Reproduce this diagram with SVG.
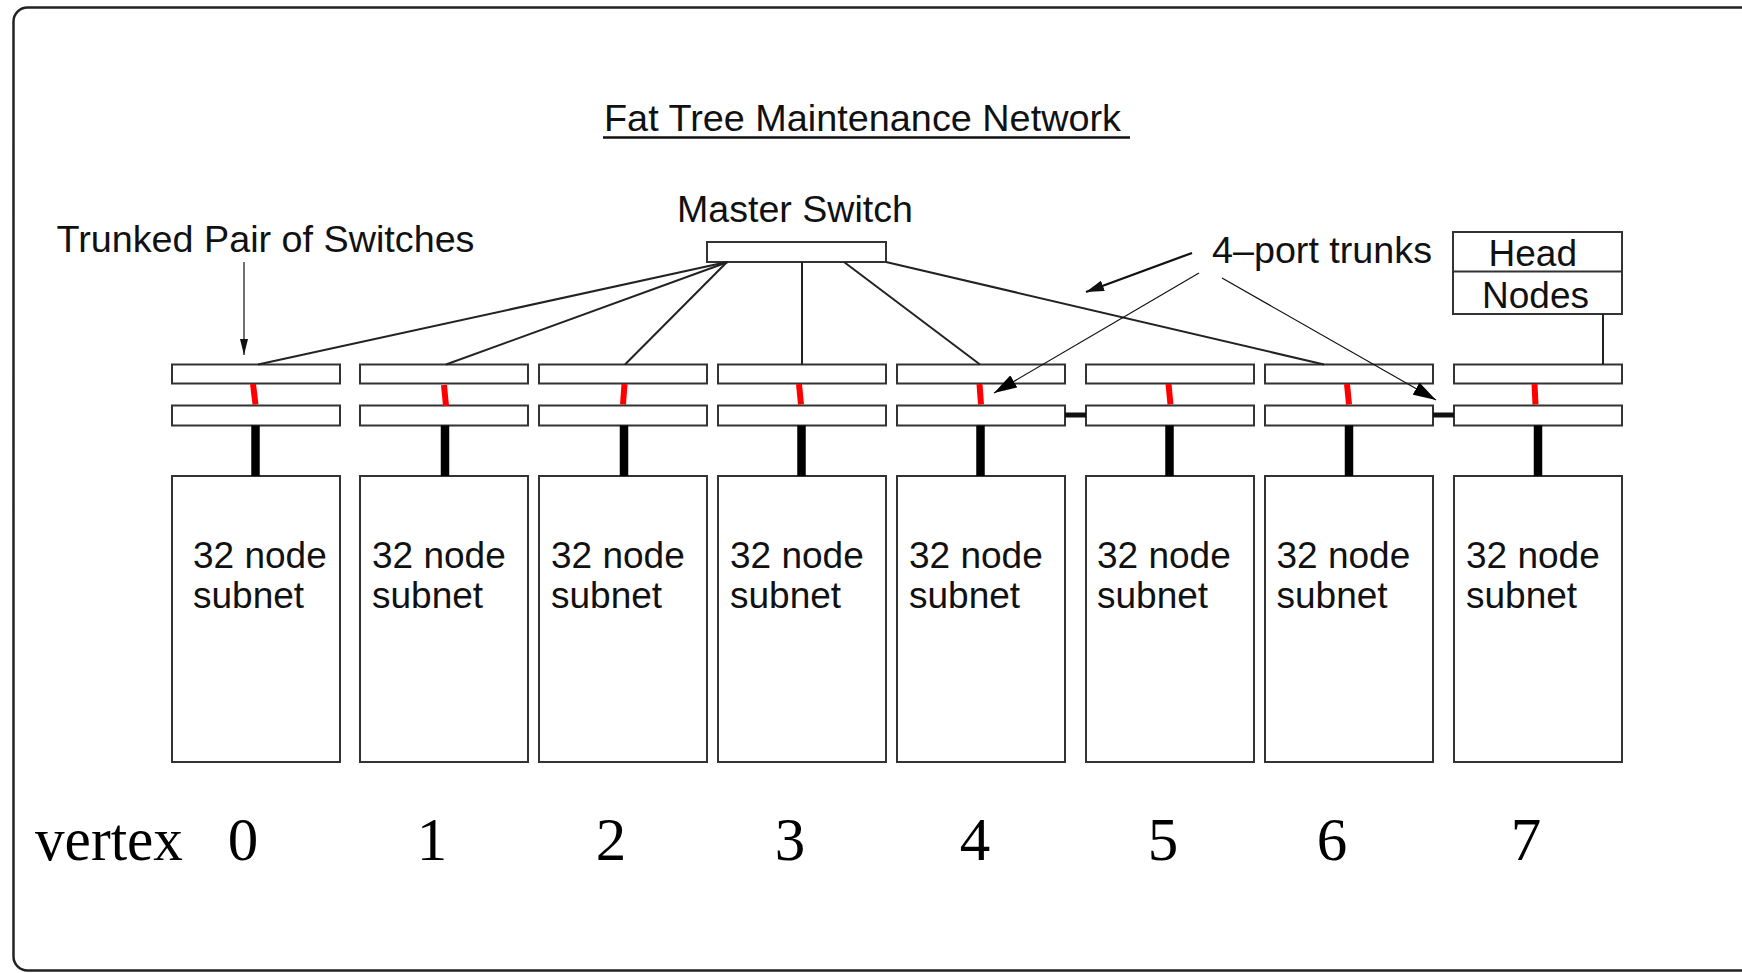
<svg xmlns="http://www.w3.org/2000/svg" width="1742" height="973" viewBox="0 0 1742 973">
<style>
.box{fill:#fff;stroke:#333;stroke-width:2}
.sans{font-family:"Liberation Sans",Arial,sans-serif;font-size:37px;fill:#111}
.serif{font-family:"Liberation Serif","Times New Roman",serif;font-size:61px;fill:#000}
.ln{stroke:#222;stroke-width:2;fill:none}
.thin{stroke:#111;stroke-width:1.2;fill:none}
.red{stroke:#f00;stroke-width:6;fill:none}
.bar{stroke:#000;stroke-width:8.5;fill:none}
.trunk{stroke:#111;stroke-width:5;fill:none}
</style>
<defs>
<marker id="ahBig" markerUnits="userSpaceOnUse" markerWidth="24" markerHeight="14" refX="23" refY="7" orient="auto"><path d="M0,0 L23,7 L0,14 z" fill="#000"/></marker>
<marker id="ahMid" markerUnits="userSpaceOnUse" markerWidth="18" markerHeight="11" refX="18" refY="5.5" orient="auto"><path d="M0,0 L18,5.5 L0,11 z" fill="#111"/></marker>
<marker id="ahSmall" markerUnits="userSpaceOnUse" markerWidth="16" markerHeight="8" refX="16" refY="4" orient="auto"><path d="M0,0 L16,4 L0,8 z" fill="#111"/></marker>
</defs>
<rect width="1742" height="973" fill="#fff"/>
<rect id="frame" x="13.5" y="7.5" width="1790" height="963" rx="14" fill="none" stroke="#222" stroke-width="2.5"/>

<g id="title">
<text class="sans" x="604" y="131" font-size="38" textLength="517" lengthAdjust="spacingAndGlyphs">Fat Tree Maintenance Network</text>
<line x1="603" y1="137.5" x2="1130" y2="137.5" stroke="#111" stroke-width="2.6"/>
</g>

<g id="label-trunked"><text class="sans" x="56.5" y="252" textLength="418" lengthAdjust="spacingAndGlyphs">Trunked Pair of Switches</text></g>
<g id="label-trunks"><text class="sans" x="1212" y="263" textLength="220" lengthAdjust="spacingAndGlyphs">4–port trunks</text></g>

<g id="master-switch">
<text class="sans" x="677" y="222" textLength="236" lengthAdjust="spacingAndGlyphs">Master Switch</text>
<rect class="box" x="707" y="242" width="179" height="20"/>
</g>

<g id="head-nodes">
<rect class="box" x="1453" y="232" width="169" height="82"/>
<line x1="1453" y1="271.5" x2="1622" y2="271.5" stroke="#333" stroke-width="2"/>
<text class="sans" x="1488.5" y="266">Head</text>
<text class="sans" x="1482" y="308">Nodes</text>
</g>

<g id="col0">
<rect class="box" x="172" y="364.5" width="168" height="19"/>
<rect class="box" x="172" y="405.5" width="168" height="20"/>
<rect class="box" x="172" y="476" width="168" height="286"/>
<text class="sans" x="193" y="568">32 node</text><text class="sans" x="193" y="608">subnet</text>
</g>
<g id="col1">
<rect class="box" x="360" y="364.5" width="168" height="19"/>
<rect class="box" x="360" y="405.5" width="168" height="20"/>
<rect class="box" x="360" y="476" width="168" height="286"/>
<text class="sans" x="372" y="568">32 node</text><text class="sans" x="372" y="608">subnet</text>
</g>
<g id="col2">
<rect class="box" x="539" y="364.5" width="168" height="19"/>
<rect class="box" x="539" y="405.5" width="168" height="20"/>
<rect class="box" x="539" y="476" width="168" height="286"/>
<text class="sans" x="551" y="568">32 node</text><text class="sans" x="551" y="608">subnet</text>
</g>
<g id="col3">
<rect class="box" x="718" y="364.5" width="168" height="19"/>
<rect class="box" x="718" y="405.5" width="168" height="20"/>
<rect class="box" x="718" y="476" width="168" height="286"/>
<text class="sans" x="730" y="568">32 node</text><text class="sans" x="730" y="608">subnet</text>
</g>
<g id="col4">
<rect class="box" x="897" y="364.5" width="168" height="19"/>
<rect class="box" x="897" y="405.5" width="168" height="20"/>
<rect class="box" x="897" y="476" width="168" height="286"/>
<text class="sans" x="909" y="568">32 node</text><text class="sans" x="909" y="608">subnet</text>
</g>
<g id="col5">
<rect class="box" x="1086" y="364.5" width="168" height="19"/>
<rect class="box" x="1086" y="405.5" width="168" height="20"/>
<rect class="box" x="1086" y="476" width="168" height="286"/>
<text class="sans" x="1097" y="568">32 node</text><text class="sans" x="1097" y="608">subnet</text>
</g>
<g id="col6">
<rect class="box" x="1265" y="364.5" width="168" height="19"/>
<rect class="box" x="1265" y="405.5" width="168" height="20"/>
<rect class="box" x="1265" y="476" width="168" height="286"/>
<text class="sans" x="1276.5" y="568">32 node</text><text class="sans" x="1276.5" y="608">subnet</text>
</g>
<g id="col7">
<rect class="box" x="1454" y="364.5" width="168" height="19"/>
<rect class="box" x="1454" y="405.5" width="168" height="20"/>
<rect class="box" x="1454" y="476" width="168" height="286"/>
<text class="sans" x="1466" y="568">32 node</text><text class="sans" x="1466" y="608">subnet</text>
</g>

<g id="connectors">
<line class="ln" x1="727" y1="262" x2="258" y2="364.5"/>
<line class="ln" x1="728" y1="262" x2="446" y2="364.5"/>
<line class="ln" x1="727" y1="262" x2="625" y2="364.5"/>
<line class="ln" x1="802" y1="262" x2="802" y2="364.5"/>
<line class="ln" x1="844" y1="262" x2="980" y2="364.5"/>
<line class="ln" x1="886" y1="262" x2="1324" y2="364.5"/>
<line class="ln" x1="1603" y1="314" x2="1603" y2="364.5"/>

<line class="red" x1="253" y1="384" x2="255.5" y2="404.5"/>
<line class="red" x1="444" y1="385" x2="446" y2="406"/>
<line class="red" x1="624.5" y1="384" x2="623" y2="404.5"/>
<line class="red" x1="799" y1="384" x2="801" y2="404.5"/>
<line class="red" x1="979.5" y1="384" x2="981" y2="404.5"/>
<line class="red" x1="1168.5" y1="384" x2="1170.5" y2="404.5"/>
<line class="red" x1="1347" y1="384" x2="1349" y2="404.5"/>
<line class="red" x1="1534.5" y1="384" x2="1535.5" y2="404.5"/>

<line class="bar" x1="255.5" y1="425.5" x2="255.5" y2="476"/>
<line class="bar" x1="445" y1="425.5" x2="445" y2="476"/>
<line class="bar" x1="624" y1="425.5" x2="624" y2="476"/>
<line class="bar" x1="801.5" y1="425.5" x2="801.5" y2="476"/>
<line class="bar" x1="980.5" y1="425.5" x2="980.5" y2="476"/>
<line class="bar" x1="1169.5" y1="425.5" x2="1169.5" y2="476"/>
<line class="bar" x1="1349" y1="425.5" x2="1349" y2="476"/>
<line class="bar" x1="1538" y1="425.5" x2="1538" y2="476"/>

<line class="trunk" x1="1065" y1="415" x2="1086" y2="415"/>
<line class="trunk" x1="1433" y1="415" x2="1454" y2="415"/>

<line class="thin" x1="244" y1="262" x2="244" y2="355" marker-end="url(#ahSmall)"/>
<line x1="1192" y1="253" x2="1086" y2="292" stroke="#111" stroke-width="2.3" marker-end="url(#ahMid)"/>
<line class="thin" x1="1199" y1="273" x2="994" y2="393" marker-end="url(#ahBig)"/>
<line class="thin" x1="1222" y1="278" x2="1436" y2="400" marker-end="url(#ahBig)"/>
</g>

<g id="vertex-labels">
<text class="serif" x="35" y="860" textLength="148" lengthAdjust="spacingAndGlyphs">vertex</text>
<text class="serif" x="243" y="860" text-anchor="middle">0</text>
<text class="serif" x="432" y="860" text-anchor="middle">1</text>
<text class="serif" x="611" y="860" text-anchor="middle">2</text>
<text class="serif" x="790" y="860" text-anchor="middle">3</text>
<text class="serif" x="975" y="860" text-anchor="middle">4</text>
<text class="serif" x="1163" y="860" text-anchor="middle">5</text>
<text class="serif" x="1332" y="860" text-anchor="middle">6</text>
<text class="serif" x="1526" y="860" text-anchor="middle">7</text>
</g>
</svg>
